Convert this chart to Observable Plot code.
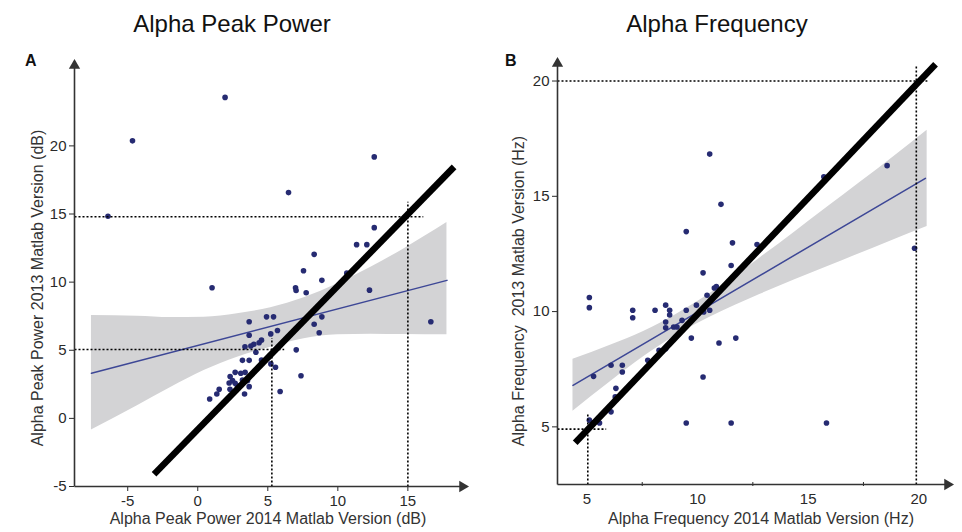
<!DOCTYPE html>
<html><head><meta charset="utf-8">
<script src="https://cdn.jsdelivr.net/npm/d3@7"></script>
<script src="https://cdn.jsdelivr.net/npm/@observablehq/plot@0.6"></script>
<style>
body{margin:0;background:#fff;font-family:"Liberation Sans",Arial,sans-serif;}
#wrap{position:relative;width:962px;height:532px;overflow:hidden;background:#fff;}
.panel{position:absolute;top:0;}
.title{position:absolute;font-size:24px;line-height:1;color:#111;transform:translateX(-50%);white-space:nowrap;}
.letter{position:absolute;font-size:16px;line-height:1;font-weight:bold;color:#111;}
.xlab{position:absolute;font-size:16px;line-height:1;color:#333;transform:translateX(-50%);white-space:nowrap;}
.ylab{position:absolute;font-size:16px;line-height:1;color:#333;white-space:nowrap;transform:translate(-50%,-50%) rotate(-90deg);}
</style></head>
<body>
<div id="wrap">
  <div class="title" style="left:232px;top:12px">Alpha Peak Power</div>
  <div class="title" style="left:717px;top:12px">Alpha Frequency</div>
  <div class="letter" style="left:25px;top:53px">A</div>
  <div class="letter" style="left:505px;top:53px">B</div>
  <div class="xlab" style="left:268px;top:511px">Alpha Peak Power 2014 Matlab Version (dB)</div>
  <div class="xlab" style="left:761px;top:511px">Alpha Frequency 2014 Matlab Version (Hz)</div>
  <div class="ylab" style="left:38px;top:288px">Alpha Peak Power 2013 Matlab Version (dB)</div>
  <div class="ylab" style="left:519px;top:291px">Alpha Frequency&nbsp; 2013 Matlab Version (Hz)</div>
  <div id="pa" class="panel" style="left:0px"></div>
  <div id="pb" class="panel" style="left:481px"></div>
</div>
<script>
// ---------- Panel A: Alpha Peak Power (dB) ----------
const powerX2014 = [1.95,-4.66,12.6,6.48,-6.41,12.6,11.34,12.07,8.31,7.55,10.64,8.86,1.02,6.98,7.02,7.74,12.26,16.64,4.91,5.41,3.67,8.86,8.31,5.69,5.21,8.67,3.67,4.55,4.38,4.0,3.79,3.37,4.15,7.03,3.19,3.67,4.55,5.22,5.55,7.37,5.88,0.85,1.36,1.53,3.34,3.67,2.3,2.67,3.07,3.38,2.31,2.48,2.67,2.24,3.19,2.83,3.55];
const powerY2013 = [23.56,20.37,19.19,16.57,14.83,14.0,12.75,12.75,12.04,10.84,10.66,10.13,9.59,9.59,9.39,9.22,9.41,7.09,7.45,7.45,7.09,7.45,6.91,6.45,6.2,6.28,6.1,5.74,5.55,5.44,5.31,5.25,4.85,5.03,4.26,4.26,4.29,4.0,3.75,3.13,1.97,1.42,1.79,2.13,1.79,2.33,2.14,3.38,3.31,3.38,3.07,2.77,2.57,2.6,2.82,2.4,2.77];
const powerFitX = [-7.59, 17.79];
const powerFitY = [3.31, 10.13];
const powerBandX  = [-7.59,-4.31,-1.93,0.45,2.83,5.21,7.59,9.98,12.36,14.74,17.79];
const powerBandLo = [-0.86,0.93,2.26,3.51,4.49,5.22,5.84,6.13,6.18,6.15,6.13];
const powerBandHi = [7.55,7.5,7.4,7.43,7.68,8.12,8.85,9.88,11.1,12.45,14.37];
const powerIdentX = [-3.12, 18.3];
const powerIdentY = [-4.1, 18.46];
const powerGuideX1 = [-8.8, 15.0, -8.8, 5.29];
const powerGuideX2 = [16.1, 15.0, 6.17, 5.29];
const powerGuideY1 = [14.8, -5, 5.05, -5];
const powerGuideY2 = [14.8, 15.9, 5.05, 5.9];
const powerXDomain = [-8.8, 18.9];
const powerYDomain = [-5, 25.9];
const powerXTicks = [-5, 0, 5, 10, 15];
const powerXMinor = [];
const powerYTicks = [-5, 0, 5, 10, 15, 20];

// ---------- Panel B: Alpha Frequency (Hz) ----------
const freqX2014 = [10.55,18.57,15.71,11.06,9.49,11.58,12.69,19.81,11.52,10.25,10.76,10.85,10.43,5.11,5.11,7.07,7.07,8.08,8.56,8.74,8.74,9.49,9.95,10.28,10.55,8.56,8.56,8.92,9.07,9.3,9.72,10.97,11.73,8.26,8.56,7.75,6.09,6.6,6.6,5.3,10.25,6.31,6.28,6.09,5.11,5.3,5.57,9.49,11.52,15.83];
const freqY2013 = [16.83,16.33,15.85,14.65,13.47,12.98,12.91,12.75,12.0,11.68,11.02,11.09,10.71,10.61,10.17,10.06,9.73,10.06,10.28,10.06,9.85,10.06,10.28,9.98,10.06,9.55,9.3,9.33,9.33,9.62,8.85,8.64,8.85,8.32,8.39,7.89,7.67,7.67,7.38,7.19,7.16,6.67,6.3,5.65,5.29,5.19,5.17,5.17,5.17,5.17];
const freqFitX = [4.37, 20.3];
const freqFitY = [6.8, 15.78];
const freqBandX  = [4.37,6.06,7.56,9.07,10.58,12.84,15.86,18.88,20.38];
const freqBandLo = [5.68,6.96,8.04,8.98,9.76,10.75,11.94,13.12,13.69];
const freqBandHi = [7.93,8.54,9.14,9.9,10.8,12.34,14.53,16.73,17.87];
const freqIdentX = [4.47, 20.76];
const freqIdentY = [4.31, 20.73];
const freqGuideX1 = [3.67, 19.89, 3.67, 5.04];
const freqGuideX2 = [20.39, 19.89, 5.87, 5.04];
const freqGuideY1 = [20, 2.5, 4.9, 2.5];
const freqGuideY2 = [20, 20.7, 4.9, 5.58];
const freqXDomain = [3.67, 21.3];
const freqYDomain = [2.5, 20.76];
const freqXTicks = [5, 10, 15, 20];
const freqXMinor = [7.5, 12.5, 17.5];
const freqYTicks = [5, 10, 15, 20];

const zip2 = (xs, ys) => xs.map((x, i) => ({x, y: ys[i]}));
const band = (xs, lo, hi) => xs.map((x, i) => ({x, lo: lo[i], hi: hi[i]}));
const segs = (x1, x2, y1, y2) => x1.map((v, i) => ({x1: v, x2: x2[i], y1: y1[i], y2: y2[i]}));

function panel(o) {
  const pts = zip2(o.px, o.py);
  const fit = zip2(o.fx, o.fy);
  const bd = band(o.bx, o.blo, o.bhi);
  const guides = segs(o.gx1, o.gx2, o.gy1, o.gy2);
  const ident = [{x1: o.ix[0], y1: o.iy[0], x2: o.ix[1], y2: o.iy[1]}];
  const axes = [
    {x1: o.xd[0], y1: o.yd[0], x2: o.xd[1], y2: o.yd[0]},
    {x1: o.xd[0], y1: o.yd[0], x2: o.xd[0], y2: o.yd[1]}
  ];
  const heads = [
    {x: o.xd[1], y: o.yd[0], rot: 90},
    {x: o.xd[0], y: o.yd[1], rot: 0}
  ];
  const minor = o.xm.length > 0;
  return Plot.plot({
    width: 481, height: 532,
    marginLeft: o.ml, marginRight: o.mr, marginTop: o.mt, marginBottom: o.mb,
    x: {domain: o.xd, label: null},
    y: {domain: o.yd, ticks: o.yt, tickSize: 5, tickPadding: 3, label: null, tickFormat: d => String(d)},
    style: {fontSize: "15px", fontFamily: "'Liberation Sans', Arial, sans-serif", color: "#2a2a2a", background: "transparent", overflow: "visible"},
    marks: [
      Plot.areaY(bd, {x: "x", y1: "lo", y2: "hi", fill: "#d3d3d5", curve: "monotone-x"}),
      Plot.line(fit, {x: "x", y: "y", stroke: "#3d4796", strokeWidth: 1.5}),
      Plot.dot(pts, {x: "x", y: "y", r: 2.8, fill: "#262b72", stroke: "none"}),
      Plot.link(guides, {x1: "x1", y1: "y1", x2: "x2", y2: "y2", stroke: "#000", strokeWidth: 1.6, strokeDasharray: "2,2"}),
      Plot.link(ident, {x1: "x1", y1: "y1", x2: "x2", y2: "y2", stroke: "#000", strokeWidth: 6.5}),
      Plot.axisX(o.xt, {tickSize: minor ? 0 : 5, tickPadding: minor ? 9 : 4, tickFormat: d => String(d)}),
      minor ? Plot.axisX(o.xm, {tickSize: 4, tickFormat: () => "", dy: -2}) : null,
      Plot.link(axes, {x1: "x1", y1: "y1", x2: "x2", y2: "y2", stroke: "#333", strokeWidth: 1.6}),
      Plot.dot(heads, {x: "x", y: "y", symbol: "triangle", rotate: "rot", r: 4.2, fill: "#333", stroke: "none"})
    ]
  });
}

document.getElementById("pa").append(panel({
  px: powerX2014, py: powerY2013, fx: powerFitX, fy: powerFitY,
  bx: powerBandX, blo: powerBandLo, bhi: powerBandHi,
  ix: powerIdentX, iy: powerIdentY,
  gx1: powerGuideX1, gx2: powerGuideX2, gy1: powerGuideY1, gy2: powerGuideY2,
  xd: powerXDomain, yd: powerYDomain, xt: powerXTicks, xm: powerXMinor, yt: powerYTicks,
  ml: 74, mr: 19, mt: 65, mb: 46
}));
document.getElementById("pb").append(panel({
  px: freqX2014, py: freqY2013, fx: freqFitX, fy: freqFitY,
  bx: freqBandX, blo: freqBandLo, bhi: freqBandHi,
  ix: freqIdentX, iy: freqIdentY,
  gx1: freqGuideX1, gx2: freqGuideX2, gy1: freqGuideY1, gy2: freqGuideY2,
  xd: freqXDomain, yd: freqYDomain, xt: freqXTicks, xm: freqXMinor, yt: freqYTicks,
  ml: 76, mr: 15, mt: 63, mb: 48
}));
</script>
</body></html>
